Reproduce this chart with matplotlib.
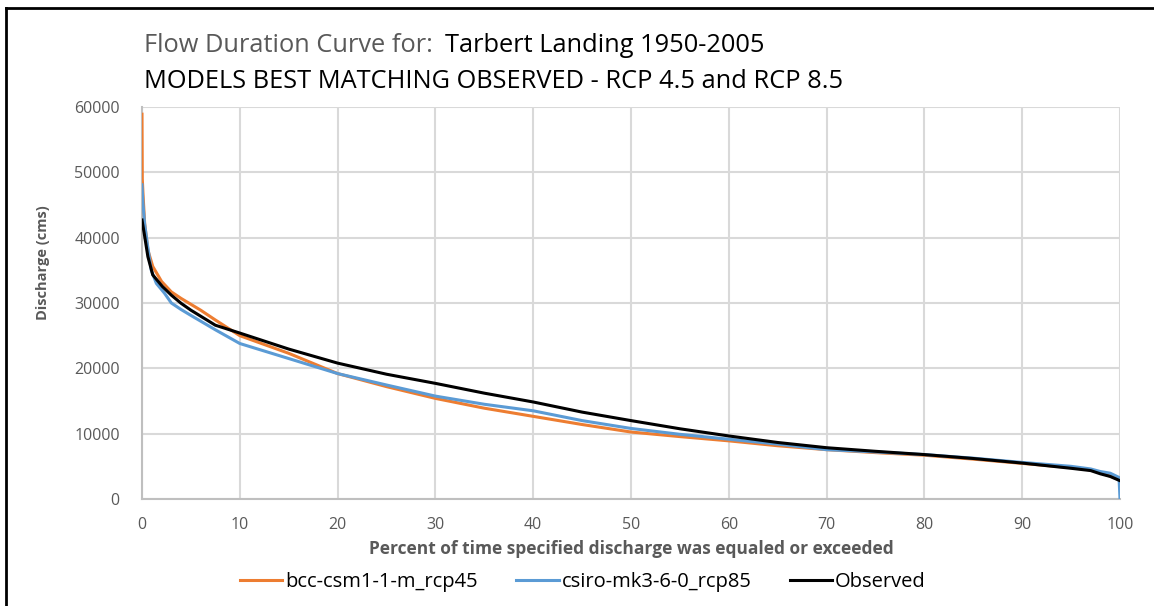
import matplotlib
matplotlib.use("Agg")
import matplotlib.pyplot as plt
from matplotlib.lines import Line2D

# percent exceedance vs discharge (cms)
bcc_pct = [0, 0.03, 0.1, 0.27, 0.6, 1.1, 2, 3, 4, 5, 6, 7.5, 10, 15, 20, 25, 30, 35,
           40, 45, 50, 55, 60, 65, 70, 75, 80, 85, 90, 95, 97, 98, 99, 100]
bcc_q = [58900, 49000, 46800, 42200, 38100, 35600, 33300, 31700, 30700, 29800, 28900,
         27400, 25000, 22300, 19200, 17200, 15400, 13900, 12650, 11400, 10250, 9550,
         8900, 8150, 7550, 7100, 6700, 6100, 5450, 4800, 4450, 4000, 3500, 2900]

csiro_pct = [0, 0.1, 0.27, 0.54, 0.95, 1.47, 2.3, 3, 4, 5, 7.5, 10, 15, 20, 25, 30, 35,
             40, 45, 50, 55, 60, 65, 70, 75, 80, 85, 90, 95, 97, 98, 99, 99.9, 100]
csiro_q = [48100, 45200, 42100, 39100, 35000, 33000, 31500, 30000, 29000, 28100, 25900,
           23800, 21500, 19200, 17450, 15750, 14500, 13500, 12000, 10800, 9900, 9150,
           8400, 7550, 7200, 6800, 6250, 5600, 5000, 4600, 4200, 3950, 3300, 0]

obs_pct = [0, 0.2, 0.6, 1.1, 2.1, 3, 4, 5, 7.5, 10, 15, 20, 25, 30, 35, 40, 45, 50,
           55, 60, 65, 70, 75, 80, 85, 90, 95, 97, 98, 99, 100]
obs_q = [42700, 40900, 37100, 34300, 32500, 31200, 29950, 28900, 26600, 25400, 22950,
         20800, 19100, 17700, 16200, 14850, 13300, 12000, 10750, 9650, 8650, 7850,
         7300, 6800, 6200, 5500, 4700, 4350, 3850, 3450, 2800]

series_names = ["bcc-csm1-1-m_rcp45", "csiro-mk3-6-0_rcp85", "Observed"]
series_colors = ["#ED7D31", "#5B9BD5", "#000000"]

FONT = "Open Sans"
GREY = "#595959"
W, H = 1154, 606

fig = plt.figure(figsize=(W / 100, H / 100), dpi=100)
ax = fig.add_axes([142 / W, 1 - 499 / H, (1120 - 142) / W, (499 - 107) / H])

ax.plot(bcc_pct, bcc_q, color=series_colors[0], lw=2.2, zorder=3)
ax.plot(csiro_pct, csiro_q, color=series_colors[1], lw=2.2, zorder=4)
ax.plot(obs_pct, obs_q, color=series_colors[2], lw=2.2, zorder=5)

ax.set_xlim(0, 100)
ax.set_ylim(0, 60000)
ax.set_xticks(range(0, 101, 10))
ax.set_yticks(range(0, 60001, 10000))
ax.grid(True, color="#d9d9d9", lw=1.5)
ax.set_axisbelow(True)
for s in ["top", "right"]:
    ax.spines[s].set_visible(False)
for s in ["left", "bottom"]:
    ax.spines[s].set_color("#bfbfbf")
    ax.spines[s].set_linewidth(1.5)
ax.tick_params(axis="y", length=0, pad=16, labelcolor=GREY, labelsize=11.5)
ax.tick_params(axis="x", length=0, pad=13, labelcolor=GREY, labelsize=11.5)
for lbl in ax.get_xticklabels() + ax.get_yticklabels():
    lbl.set_family(FONT)

fig.text(631 / W, 1 - 549 / H, "Percent of time specified discharge was equaled or exceeded",
         fontsize=12.5, fontweight="bold", color=GREY, family=FONT, ha="center", va="center")
fig.text(43 / W, 1 - 263 / H, "Discharge (cms)", rotation=90, fontsize=10.5,
         fontweight="bold", color=GREY, family=FONT, ha="center", va="center")

# two-part title
fig.text(144 / W, 1 - 46 / H, "Flow Duration Curve for:", fontsize=18.3,
         color=GREY, family=FONT, va="center", ha="left")
fig.text(445 / W, 1 - 46 / H, "Tarbert Landing 1950-2005", fontsize=18.3,
         color="black", family=FONT, va="center", ha="left")
fig.text(144 / W, 1 - 82 / H, "MODELS BEST MATCHING OBSERVED - RCP 4.5 and RCP 8.5",
         fontsize=18.3, color="black", family=FONT, va="center", ha="left")

handles = [Line2D([], [], color=c, lw=2.2) for c in series_colors]
fig.legend(handles, series_names, loc="center", bbox_to_anchor=(583 / W, 1 - 582 / H),
           ncol=3, frameon=False, prop={"family": FONT, "size": 14.5},
           handlelength=2.1, handletextpad=0.15, columnspacing=1.9)

# outer frame of the screenshot (top and left edges only)
fig.add_artist(Line2D([6 / W, 6 / W], [0, 1 - 8 / H], transform=fig.transFigure,
                      color="black", lw=2))
fig.add_artist(Line2D([6 / W, 1], [1 - 8 / H, 1 - 8 / H], transform=fig.transFigure,
                      color="black", lw=2))

fig.savefig("out.png", dpi=100)
